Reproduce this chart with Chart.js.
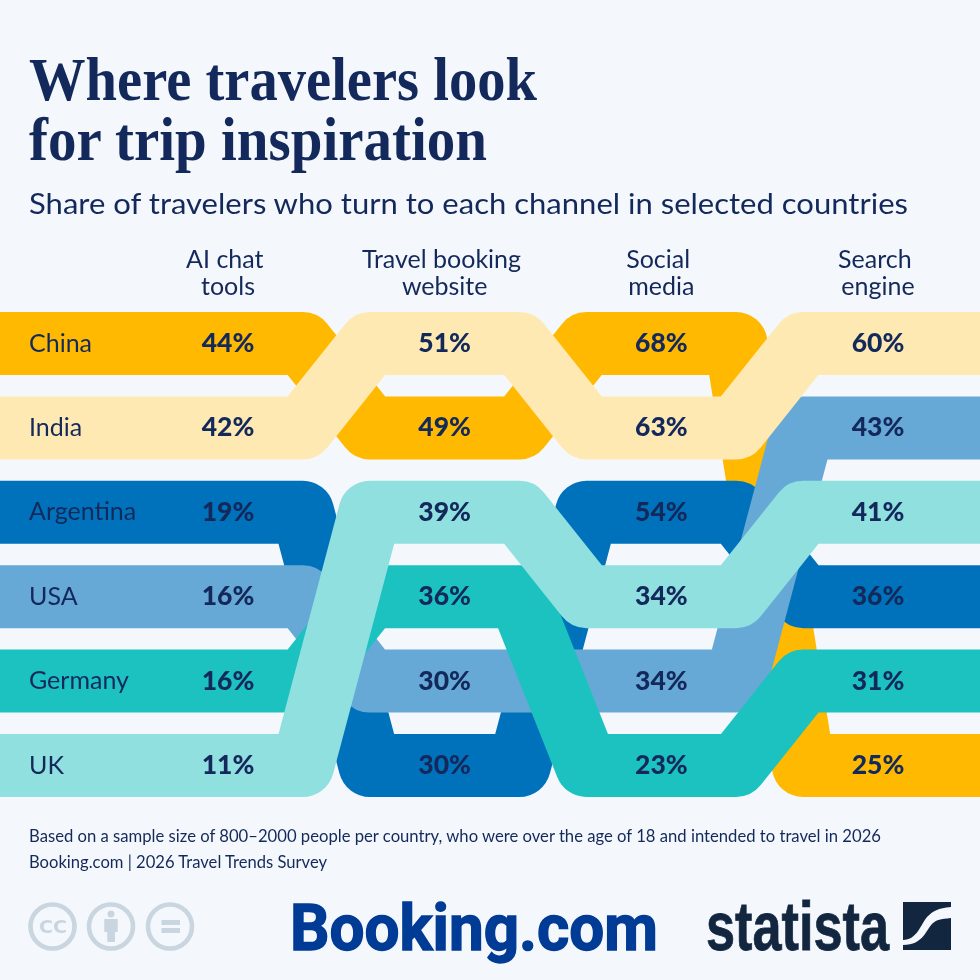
<!DOCTYPE html>
<html>
<head>
<meta charset="utf-8">
<title>Where travelers look for trip inspiration</title>
<script src="https://cdn.jsdelivr.net/npm/chart.js@4"></script>
<style>
  html, body { margin: 0; background: #f4f8fc; }
  #wrap { position: relative; width: 980px; height: 980px; overflow: hidden; }
  #chart { position: absolute; left: 0; top: 0; }
  #overlay { position: absolute; left: 0; top: 0; }
  .title { font: 700 62px "Liberation Serif", serif; fill: #14295b; }
  .sub { font: 400 29.5px Lato, sans-serif; fill: #14295b; }
  .note { font: 400 16.5px Lato, sans-serif; fill: #14295b; }
</style>
</head>
<body>
<div id="wrap">
  <canvas id="chart" width="980" height="980"></canvas>
  <svg id="overlay" width="980" height="980" viewBox="0 0 980 980">
    <text class="title" x="29" y="99.5" textLength="508" lengthAdjust="spacingAndGlyphs">Where travelers look</text>
    <text class="title" x="29" y="160" textLength="458" lengthAdjust="spacingAndGlyphs">for trip inspiration</text>
    <text class="sub" x="29" y="214" textLength="879" lengthAdjust="spacingAndGlyphs">Share of travelers who turn to each channel in selected countries</text>
    <text class="note" x="29" y="842" textLength="852" lengthAdjust="spacingAndGlyphs">Based on a sample size of 800–2000 people per country, who were over the age of 18 and intended to travel in 2026</text>
    <text class="note" x="29" y="867.5" textLength="298" lengthAdjust="spacingAndGlyphs">Booking.com | 2026 Travel Trends Survey</text>

    <g fill="none" stroke="#c9d5df" stroke-width="4.6">
      <circle cx="52.5" cy="926.5" r="22"/>
      <circle cx="111" cy="926.5" r="22"/>
      <circle cx="170" cy="926.5" r="22"/>
    </g>
    <text x="39" y="933" textLength="28" lengthAdjust="spacingAndGlyphs" font-family="'DejaVu Sans', sans-serif" font-weight="700" font-size="17" fill="#c9d5df">CC</text>
    <g fill="#c9d5df">
      <circle cx="111" cy="914" r="3.5"/>
      <rect x="104.3" y="919" width="13.4" height="13"/>
      <rect x="107.3" y="930" width="7.7" height="12"/>
      <rect x="161.5" y="920" width="18.5" height="5"/>
      <rect x="161.5" y="928" width="18.5" height="5"/>
    </g>

    <text x="290" y="950" textLength="368" lengthAdjust="spacingAndGlyphs" font-family="Roboto, sans-serif" font-weight="700" font-size="64" fill="#003b95" stroke="#003b95" stroke-width="1.4">Booking.com</text>
    <text x="706" y="950" textLength="183" lengthAdjust="spacingAndGlyphs" font-family="'Liberation Sans Narrow', 'Liberation Sans', sans-serif" font-weight="700" font-size="68" fill="#12263f" stroke="#12263f" stroke-width="0.8">statista</text>
    <path d="M903 902H951V907C938 908 933 911 927 917C921 924 917 940 903 940Z" fill="#12263f"/>
    <path d="M951 918C940 919 937 920 933 923C926 929 924 945 903 945V950H951Z" fill="#12263f"/>
  </svg>
</div>
<script>
const countries = ["China", "Argentina", "USA", "Germany", "UK", "India"];
// the first lines sit a little left in the original, the trailing space does that
const channels = [["AI chat ", "tools"], ["Travel booking ", "website"], ["Social ", "media"], ["Search ", "engine"]];

// share of travelers per channel, same order as channels
const china = [44, 49, 68, 25];
const argentina = [19, 30, 54, 36];
const usa = [16, 30, 34, 43];
const germany = [16, 36, 23, 31];
const uk = [11, 39, 34, 41];
const india = [42, 51, 63, 60];

// row of each country per channel, ties are not in a fixed order so they are listed
const chinaRows = [1, 2, 1, 6];
const argentinaRows = [3, 6, 3, 4];
const usaRows = [4, 5, 5, 2];
const germanyRows = [5, 4, 6, 5];
const ukRows = [6, 3, 4, 3];
const indiaRows = [2, 1, 2, 1];

const values = [china, argentina, usa, germany, uk, india];
const rows = [chinaRows, argentinaRows, usaRows, germanyRows, ukRows, indiaRows];
const colors = ["#ffb900", "#0072bc", "#66a9d6", "#1cc2bf", "#90e0df", "#ffe9b3"];

const INK = "#14295b";
const X_MIN = -228 / 216.67;
const X_MAX = (980 - 228) / 216.67;
const FLAT = 0.345; // how far a band stays flat either side of its column

function bandPoints(rowList, valueList) {
  const pts = [];
  rowList.forEach((row, i) => {
    pts.push({ x: i === 0 ? X_MIN : i - FLAT, y: row });
    pts.push({ x: i, y: row, share: valueList[i] });
    pts.push({ x: i === rowList.length - 1 ? X_MAX : i + FLAT, y: row });
  });
  return pts;
}

const bandLabels = {
  id: "bandLabels",
  afterDatasetsDraw(chart) {
    const { ctx, scales: { x, y } } = chart;
    ctx.save();
    ctx.fillStyle = INK;
    ctx.textBaseline = "middle";

    ctx.textAlign = "center";
    ctx.font = "400 25px Lato, sans-serif";
    channels.forEach((lines, i) => {
      lines.forEach((line, k) => ctx.fillText(line, x.getPixelForValue(i), 260 + k * 27));
    });

    ctx.font = "900 26.5px Lato, sans-serif";
    countries.forEach((name, c) => {
      rows[c].forEach((row, i) => {
        ctx.fillText(values[c][i] + "%", x.getPixelForValue(i), y.getPixelForValue(row));
      });
    });

    ctx.textAlign = "left";
    ctx.font = "400 25px Lato, sans-serif";
    countries.forEach((name, c) => {
      ctx.fillText(name, 29, y.getPixelForValue(rows[c][0]));
    });
    ctx.restore();
  }
};

new Chart(document.getElementById("chart").getContext("2d"), {
  type: "line",
  data: {
    // first dataset is drawn at the bottom of the pile
    datasets: countries.map((name, c) => ({
      label: name,
      data: bandPoints(rows[c], values[c]),
      borderColor: colors[c],
      borderWidth: 63,
      borderJoinStyle: "round",
      borderCapStyle: "butt",
      pointRadius: 0,
      tension: 0,
      fill: false,
      order: countries.length - c
    }))
  },
  options: {
    responsive: false,
    animation: false,
    events: [],
    layout: { padding: 0 },
    scales: {
      x: { type: "linear", display: false, min: X_MIN, max: X_MAX },
      y: { type: "linear", display: false, reverse: true, min: 1 - 343.5 / 84.4, max: 1 + (980 - 343.5) / 84.4 }
    },
    plugins: {
      legend: { display: false },
      tooltip: { enabled: false }
    }
  },
  plugins: [bandLabels]
});
</script>
</body>
</html>
